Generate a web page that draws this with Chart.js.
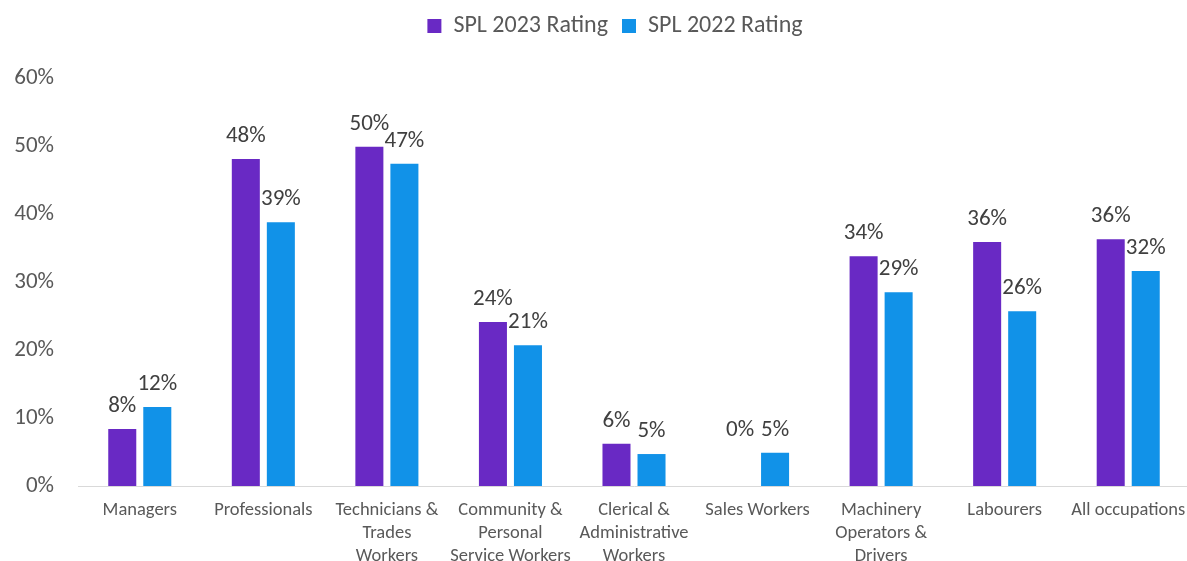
<!DOCTYPE html>
<html>
<head>
<meta charset="utf-8">
<script src="https://cdn.jsdelivr.net/npm/chart.js@4.4.0/dist/chart.umd.min.js"></script>
<style>
  html, body { margin: 0; padding: 0; background: #ffffff; overflow: hidden; }
  #wrap { width: 1187px; height: 561px; position: relative; overflow: hidden; }
</style>
</head>
<body>
<div id="wrap"><canvas id="c" width="1190" height="561"></canvas></div>
<script>
const categories = [
  "Managers",
  "Professionals",
  ["Technicians &", "Trades", "Workers"],
  ["Community &", "Personal", "Service Workers"],
  ["Clerical &", "Administrative", "Workers"],
  "Sales Workers",
  ["Machinery", "Operators &", "Drivers"],
  "Labourers",
  "All occupations"
];
const spl2023 = [8.4, 48.1, 49.9, 24.1, 6.2, 0, 33.8, 35.9, 36.3];
const spl2022 = [11.6, 38.8, 47.4, 20.7, 4.7, 4.9, 28.5, 25.7, 31.6];
const yTicks = [0, 10, 20, 30, 40, 50, 60];

const FONT = "Carlito, Calibri, Lato, 'Liberation Sans', sans-serif";

const legendLayout = {
  id: 'legendLayout',
  beforeUpdate(chart) {
    const lg = chart.legend;
    if (lg && !lg._fixedFit) {
      const orig = lg.fit.bind(lg);
      lg.fit = function () { orig(); this.height = 78; };
      lg._fixedFit = true;
    }
  },
  afterLayout(chart) {
    if (chart.legend) { chart.legend.left += 40; }
  }
};

const dataLabels = {
  id: 'dataLabels',
  afterDatasetsDraw(chart) {
    const ctx = chart.ctx;
    ctx.save();
    ctx.font = "23px " + FONT;
    ctx.fillStyle = "#404040";
    ctx.textAlign = "center";
    ctx.textBaseline = "alphabetic";
    const metas = chart.data.datasets.map((d, i) => chart.getDatasetMeta(i));
    metas.forEach((meta, di) => {
      const ds = chart.data.datasets[di];
      meta.data.forEach((bar, i) => {
        const v = ds.data[i];
        let y = bar.y;
        if (v === 0) {
          const other = metas[(di + 1) % metas.length].data[i];
          y = Math.min(y, other.y);
        }
        ctx.fillText(Math.round(v) + "%", bar.x, y - 17);
      });
    });
    ctx.restore();
  }
};

new Chart(document.getElementById('c'), {
  type: 'bar',
  data: {
    labels: categories,
    datasets: [
      { label: "SPL 2023 Rating", data: spl2023, backgroundColor: "#6929C4" },
      { label: "SPL 2022 Rating", data: spl2022, backgroundColor: "#1192E8" }
    ]
  },
  options: {
    responsive: false,
    animation: false,
    devicePixelRatio: 1,
    layout: { padding: 0 },
    datasets: { bar: { categoryPercentage: 0.567, barPercentage: 0.8 } },
    plugins: {
      legend: {
        position: 'top',
        labels: {
          font: { size: 24, family: FONT },
          color: "#595959",
          boxWidth: 14,
          boxHeight: 14,
          padding: 14
        }
      },
      tooltip: { enabled: false }
    },
    scales: {
      x: {
        grid: { display: false, drawTicks: false },
        border: { color: "#d9d9d9", width: 1 },
        ticks: { font: { size: 18.5, family: FONT, lineHeight: 1.25 }, color: "#595959", padding: 13, maxRotation: 0, autoSkip: false },
        afterFit(scale) { scale.height = 75; scale.paddingLeft = 0; scale.paddingRight = 0; }
      },
      y: {
        min: 0, max: 60,
        grid: { display: false, drawTicks: false },
        border: { display: false },
        afterBuildTicks(scale) { scale.ticks = yTicks.map(v => ({ value: v })); },
        ticks: { font: { size: 23, family: FONT }, color: "#595959", padding: 24, callback: v => v + "%" },
        afterFit(scale) { scale.width = 78; }
      }
    }
  },
  plugins: [legendLayout, dataLabels]
});
</script>
</body>
</html>
